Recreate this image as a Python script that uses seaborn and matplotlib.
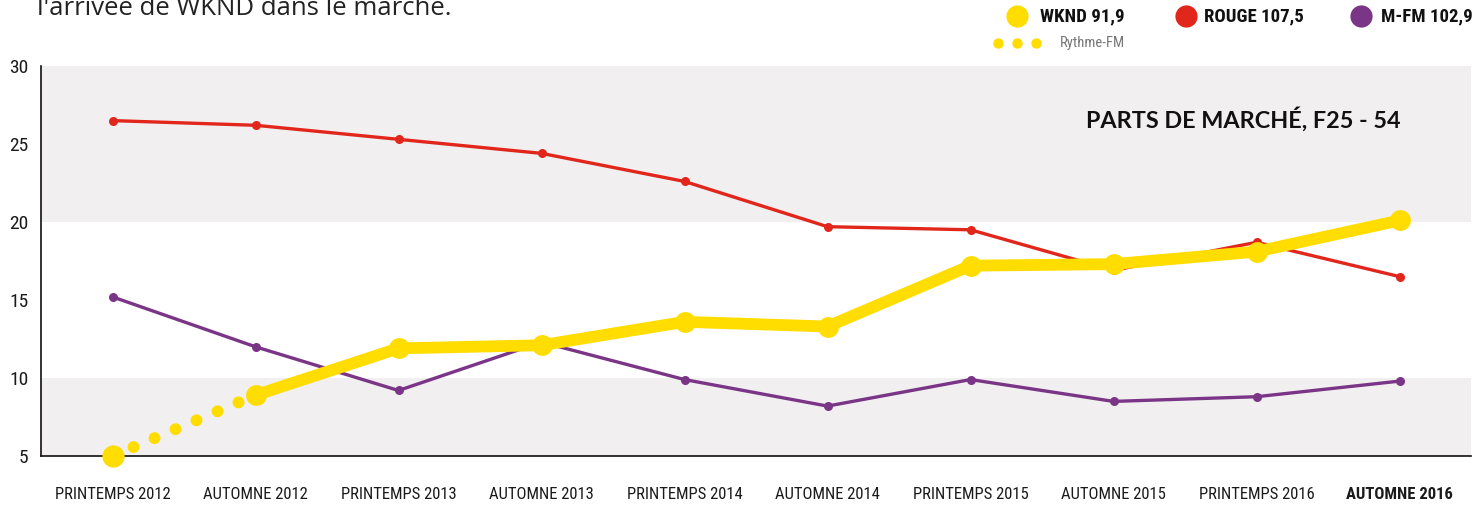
import matplotlib
matplotlib.use("Agg")
import matplotlib.pyplot as plt
import numpy as np
import pandas as pd
import seaborn as sns
from matplotlib import font_manager
from matplotlib.lines import Line2D

# Data
saisons = ["PRINTEMPS 2012", "AUTOMNE 2012", "PRINTEMPS 2013", "AUTOMNE 2013",
           "PRINTEMPS 2014", "AUTOMNE 2014", "PRINTEMPS 2015", "AUTOMNE 2015",
           "PRINTEMPS 2016", "AUTOMNE 2016"]
rouge = [26.5, 26.2, 25.3, 24.4, 22.6, 19.7, 19.5, 16.9, 18.7, 16.5]
mfm = [15.2, 12.0, 9.2, 12.3, 9.9, 8.2, 9.9, 8.5, 8.8, 9.8]
wknd = [None, 8.9, 11.9, 12.1, 13.6, 13.3, 17.2, 17.3, 18.1, 20.1]
rythme = [5.0, 8.9]  # Rythme-FM before WKND, first two seasons
yticks = [5, 10, 15, 20, 25, 30]

RED = "#e1261c"
PURPLE = "#7a3586"
YELLOW = "#ffdd00"
BAND = "#f2eff1"

# pick a narrow font if one is installed
names = {f.name for f in font_manager.fontManager.ttflist}
narrow = "Roboto"
for cand in ["Liberation Sans Narrow", "Roboto Condensed", "DejaVu Sans Condensed"]:
    if cand in names:
        narrow = cand
        break

sns.set_style("white")
plt.rcParams["font.family"] = [narrow, "DejaVu Sans"]

df = pd.DataFrame({"pos": np.arange(len(saisons)), "saison": saisons,
                   "rouge": rouge, "mfm": mfm,
                   "wknd": [np.nan if v is None else v for v in wknd]})
df_ry = pd.DataFrame({"pos": np.arange(len(rythme)), "val": rythme})

fig = plt.figure(figsize=(14.74, 5.05), dpi=100)
ax = fig.add_axes([41 / 1474, 1 - 456 / 505, (1471 - 41) / 1474, (456 - 66) / 505])

# background bands
ax.axhspan(20, 30, color=BAND, lw=0, zorder=0)
ax.axhspan(5, 10, color=BAND, lw=0, zorder=0)

sns.lineplot(data=df, x="pos", y="rouge", color=RED, lw=2.4, marker="o",
             markersize=6.5, markeredgewidth=0, ax=ax, zorder=3)
sns.lineplot(data=df, x="pos", y="mfm", color=PURPLE, lw=2.4, marker="o",
             markersize=6.5, markeredgewidth=0, ax=ax, zorder=3)

# Rythme-FM dotted segment
ax.plot(df_ry["pos"], df_ry["val"], color=YELLOW, lw=8.6, linestyle=(0, (0.01, 1.9)),
        dash_capstyle="round", zorder=4)
ax.plot(df_ry["pos"][:1], df_ry["val"][:1], "o", color=YELLOW, markersize=16,
        markeredgewidth=0, zorder=5, clip_on=False)

sns.lineplot(data=df.dropna(), x="pos", y="wknd", color=YELLOW, lw=8.5, marker="o",
             markersize=15, markeredgewidth=0, ax=ax, zorder=5)

ax.set_xlim(-0.5, 9.5)
ax.set_ylim(5, 30)
ax.set_xlabel("")
ax.set_ylabel("")

ax.set_xticks(np.arange(len(saisons)))
ax.set_xticklabels(saisons, fontsize=12, color="#1a1a1a")
ax.get_xticklabels()[-1].set_fontweight("bold")
ax.set_xticks(np.arange(len(saisons)) + 0.5, minor=True)
ax.tick_params(axis="x", which="major", length=0, pad=22)
ax.tick_params(axis="x", which="minor", direction="in", length=9.5, width=1, color="#222")

ax.set_yticks(yticks)
ax.set_yticklabels([str(v) for v in yticks], fontsize=14, color="#1a1a1a")
ax.tick_params(axis="y", direction="in", length=18, width=1, color="#444", pad=9)

for s in ["top", "right"]:
    ax.spines[s].set_visible(False)
for s in ["left", "bottom"]:
    ax.spines[s].set_color("#111")
    ax.spines[s].set_linewidth(1.2)

ax.text(0.951, 0.864, "PARTS DE MARCHÉ, F25 - 54", transform=ax.transAxes,
        ha="right", va="center", fontsize=16.8, fontweight="bold",
        family=["Lato", "DejaVu Sans"], color="#111")

# top text cut off by the figure edge
fig.text(37 / 1474, 1 - 15 / 505, "l'arrivée de WKND dans le marché.", fontsize=18.5,
         family=["Open Sans", "DejaVu Sans"], color="#222", va="baseline", ha="left")

# legend
def fx(px):
    return px / 1474

def fy(py):
    return 1 - py / 505

for x, c, label, tx in [(1017, YELLOW, "WKND 91,9", 1040),
                        (1186, RED, "ROUGE 107,5", 1204),
                        (1361, PURPLE, "M-FM 102,9", 1381)]:
    fig.add_artist(Line2D([fx(x)], [fy(16)], marker="o", color=c, markersize=16,
                          markeredgewidth=0, transform=fig.transFigure))
    fig.text(fx(tx), fy(16), label, fontsize=13.5, fontweight="bold", color="#111",
             va="center", ha="left")
for x in [998, 1017, 1036]:
    fig.add_artist(Line2D([fx(x)], [fy(43)], marker="o", color=YELLOW, markersize=7.5,
                          markeredgewidth=0, transform=fig.transFigure))
fig.text(fx(1060), fy(43), "Rythme-FM", fontsize=10.5, color="#777", va="center", ha="left")

fig.savefig("out.png", dpi=100)
